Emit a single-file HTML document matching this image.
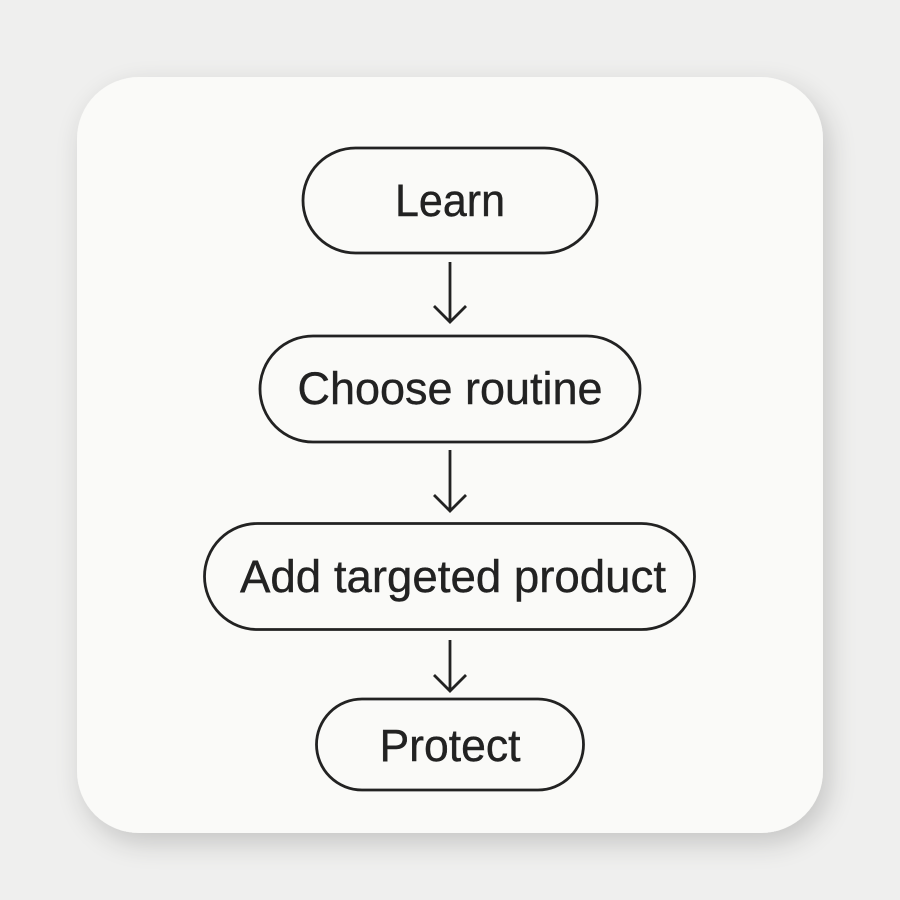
<!DOCTYPE html>
<html><head><style>
html,body{margin:0;padding:0;background:#efefee;}
svg{display:block;}
</style></head><body>
<svg width="900" height="900" viewBox="0 0 900 900" xmlns="http://www.w3.org/2000/svg">
<defs>
<filter id="sh" x="-20%" y="-20%" width="140%" height="140%">
<feGaussianBlur in="SourceAlpha" stdDeviation="14"/>
<feOffset dx="6" dy="10" result="b"/>
<feComponentTransfer><feFuncA type="linear" slope="0.18"/></feComponentTransfer>
<feMerge><feMergeNode/><feMergeNode in="SourceGraphic"/></feMerge>
</filter>
</defs>
<rect width="900" height="900" fill="#efefee"/>
<rect x="77" y="77" width="746" height="756" rx="62" fill="#fafaf8" filter="url(#sh)"/>
<g fill="none" stroke="#222" stroke-width="2.8">
<rect x="303" y="148" width="294" height="105" rx="52.5"/>
<rect x="260" y="336" width="380" height="106" rx="53"/>
<rect x="204.5" y="523.5" width="490" height="106" rx="53"/>
<rect x="316.5" y="699" width="267" height="91" rx="45.5"/>
<path d="M450 262V322M434 306L450 322L466 306"/>
<path d="M450 450V511M434 495L450 511L466 495"/>
<path d="M450 640V691M434 675L450 691L466 675"/>
</g>
<g font-family="Liberation Sans, sans-serif" font-size="45" fill="#222" stroke="#222" stroke-width="0.4" text-anchor="middle">
<text x="450" y="216" textLength="110" lengthAdjust="spacingAndGlyphs">Learn</text>
<text x="450" y="404" textLength="305" lengthAdjust="spacingAndGlyphs">Choose routine</text>
<text x="453" y="592" textLength="426" lengthAdjust="spacingAndGlyphs">Add targeted product</text>
<text x="450" y="761" textLength="141" lengthAdjust="spacingAndGlyphs">Protect</text>
</g>
</svg>
</body></html>
